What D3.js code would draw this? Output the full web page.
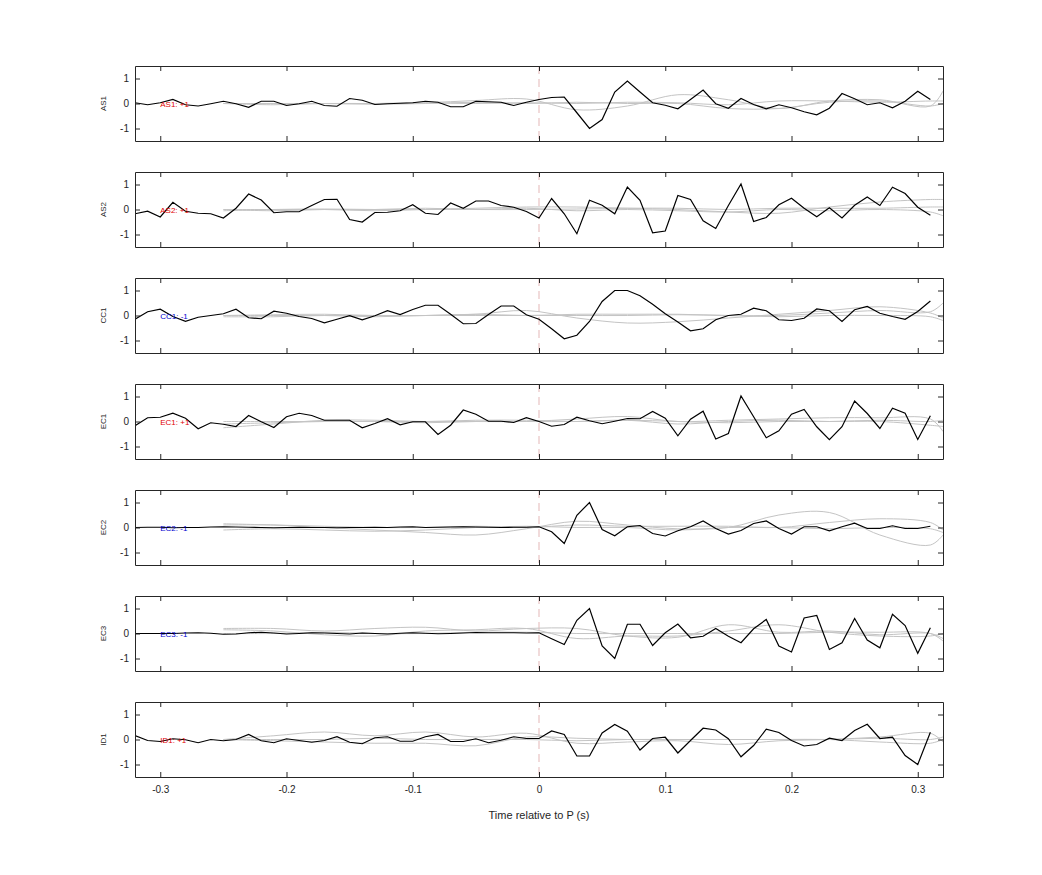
<!DOCTYPE html>
<html>
<head>
<meta charset="utf-8">
<script src="https://cdn.jsdelivr.net/npm/d3@7"></script>
<style>
  body { margin: 0; background: #fff; }
  text { font-family: "Liberation Sans", Arial, sans-serif; }
</style>
</head>
<body>
<svg id="chart"></svg>
<script>
const width = 1042;
const height = 875;

// black trace sampled every 0.01 s from -0.32 to 0.31
const timesBlack = d3.range(64).map(i => +(-0.32 + i * 0.01).toFixed(2));
// grey traces sampled every 0.04 s from -0.25, plus 0.32
const timesGrey = d3.range(15).map(i => +(-0.25 + i * 0.04).toFixed(2)).concat([0.32]);

const panels = ["AS1", "AS2", "CC1", "EC1", "EC2", "EC3", "ID1"];
const labels = ["AS1: +1", "AS2: +1", "CC1: -1", "EC1: +1", "EC2: -1", "EC3: -1", "ID1: +1"];
const labelColors = ["#e00000", "#e00000", "#0000d0", "#e00000", "#0000d0", "#0000d0", "#e00000"];

const blackAS1 = [0.03,-0.05,0.03,0.16,-0.05,-0.1,-0.01,0.09,-0.01,-0.15,0.09,0.09,-0.08,-0.01,0.09,-0.08,-0.11,0.2,0.13,-0.04,-0.01,0.01,0.03,0.09,0.05,-0.13,-0.13,0.09,0.07,0.05,-0.08,0.05,
  0.16,0.24,0.26,-0.37,-1.0,-0.64,0.46,0.9,0.46,0.03,-0.07,-0.21,0.16,0.54,-0.01,-0.19,0.2,-0.04,-0.21,-0.05,-0.17,-0.33,-0.45,-0.19,0.4,0.19,-0.05,0.03,-0.17,0.09,0.49,0.16];
const blackAS2 = [-0.17,-0.07,-0.3,0.29,-0.07,-0.15,-0.17,-0.34,0.05,0.62,0.38,-0.13,-0.09,-0.09,0.16,0.4,0.41,-0.4,-0.5,-0.12,-0.11,-0.05,0.19,-0.15,-0.2,0.26,0.05,0.34,0.34,0.16,0.09,-0.08,
  -0.34,0.44,-0.17,-0.97,0.37,0.17,-0.17,0.9,0.37,-0.93,-0.86,0.56,0.4,-0.45,-0.76,0.16,1.02,-0.48,-0.32,0.19,0.45,0.05,-0.29,0.07,-0.34,0.17,0.5,0.16,0.89,0.64,0.09,-0.23];
const blackCC1 = [-0.15,0.15,0.25,-0.04,-0.23,-0.07,0,0.07,0.25,-0.09,-0.13,0.17,0.09,-0.04,-0.12,-0.29,-0.15,-0.01,-0.17,-0.01,0.19,0.04,0.24,0.41,0.41,0.05,-0.33,-0.32,0.04,0.38,0.38,0.03,
  -0.15,-0.53,-0.93,-0.79,-0.24,0.56,1.0,1.0,0.79,0.45,0.07,-0.26,-0.61,-0.53,-0.17,0,0.05,0.29,0.19,-0.17,-0.2,-0.11,0.26,0.19,-0.24,0.23,0.36,0.09,-0.04,-0.15,0.16,0.58];
const blackEC1 = [-0.17,0.15,0.17,0.33,0.13,-0.29,-0.05,-0.11,-0.2,0.24,-0.01,-0.24,0.19,0.33,0.24,0.05,0.05,0.05,-0.25,-0.08,0.11,-0.13,-0.01,-0.01,-0.52,-0.15,0.46,0.29,0.01,0.01,-0.04,0.15,
  0,-0.19,-0.12,0.17,0.03,-0.09,0.01,0.12,0.11,0.4,0.13,-0.57,0.09,0.41,-0.7,-0.48,1.02,0.19,-0.65,-0.37,0.29,0.48,-0.21,-0.73,-0.21,0.82,0.32,-0.28,0.53,0.33,-0.72,0.23];
const blackEC2 = [0,0.01,0.01,-0.01,0,0,0.02,0.03,0.02,0.01,0,-0.01,0,0.01,0,0,-0.01,0,0,0.01,0,0.02,0.03,0,0.01,0.02,0.03,0.02,0.01,0,0.01,0.01,
  0.03,-0.17,-0.64,0.49,1.0,-0.08,-0.33,0.03,0.08,-0.24,-0.34,-0.13,0.03,0.26,-0.04,-0.26,-0.12,0.16,0.26,-0.04,-0.26,0.03,0.03,-0.13,0.03,0.17,-0.04,-0.04,0.07,-0.04,-0.04,0.05];
const blackEC3 = [0,0,0,0,0.02,0.03,0.01,-0.03,-0.02,0.03,0.05,0.02,-0.02,0,0.03,0.02,0,-0.02,0.02,0,-0.02,0.01,0.03,0.01,-0.01,0,0.02,0.04,0.03,0.03,0.03,0.02,
  0.03,-0.21,-0.44,0.53,1.0,-0.5,-1.0,0.37,0.37,-0.48,0.03,0.38,-0.17,-0.11,0.2,-0.11,-0.37,0.19,0.56,-0.5,-0.74,0.62,0.72,-0.64,-0.37,0.6,-0.26,-0.57,0.77,0.32,-0.79,0.23];
const blackID1 = [0.16,-0.04,-0.08,0.03,-0.01,-0.13,0,-0.05,0,0.2,-0.05,-0.13,0.03,-0.04,-0.11,-0.04,0.11,-0.11,-0.17,0.07,0.11,-0.07,-0.07,0.11,0.2,-0.08,-0.08,0.03,-0.13,-0.03,0.11,0.04,
  0.04,0.34,0.2,-0.66,-0.66,0.26,0.6,0.33,-0.42,0.04,0.09,-0.54,-0.04,0.45,0.38,0.03,-0.69,-0.24,0.41,0.28,-0.04,-0.26,-0.2,0.05,-0.04,0.36,0.61,0.04,0.09,-0.64,-1.0,0.29];

const greyAS1 = [
  [0,0,0,0,0.03,0.12,0.18,-0.25,-0.1,0.35,0.15,-0.2,0.1,0.15,-0.1,0.5],
  [0,-0.05,0,0,0.02,0,0.03,0,0.05,0.03,-0.05,0.1,0.1,0.05,0.1,0.1],
  [0,0,0,-0.03,0,0.05,0,0.05,0,0,-0.2,-0.2,0.05,0.1,-0.1,0]];
const greyAS2 = [
  [0,0,0.02,0,0,0.05,0.1,0.1,0.05,0,-0.1,-0.15,0.1,0.3,0.4,0.4],
  [0,-0.05,0,0,0.05,0,0,0.02,0.05,0.05,0,0.05,0.05,0.05,0.1,0.1],
  [-0.05,0,0,-0.05,0,0,0.05,-0.05,0,-0.05,-0.1,0,-0.05,0,-0.1,-0.25]];
const greyCC1 = [
  [0,0,0,0,0,0.05,0.2,-0.1,-0.3,-0.25,-0.1,0.05,0.2,0.35,0.1,-0.1],
  [0,0.03,0.05,0,0,0.05,0,0.05,0.05,0.05,0,0,0.1,0.2,0.15,0.5],
  [-0.05,-0.05,0,-0.05,0,0,0,0,0,0.03,0,-0.05,0,0,-0.05,-0.2]];
const greyEC1 = [
  [-0.25,-0.1,0.05,0.05,0,0,0,0.1,0.2,0,0.05,0.1,0.15,0.15,0.1,-0.4],
  [-0.1,-0.05,0,0,-0.05,0,0,0,0.05,-0.1,0,0.05,0,0,-0.15,-0.2],
  [0,0,0,0,0,0.05,0.05,0,0.05,0,-0.05,0,0,0.05,0,0.05]];
const greyEC2 = [
  [0.1,0.1,0,-0.1,-0.2,-0.3,-0.05,0.25,0.1,-0.05,0,0.5,0.6,-0.3,-0.7,-0.3],
  [0.15,0.1,0.05,0,0,0.05,0,0.1,0.05,0.05,0.05,0,0.2,0.35,0.2,-0.1],
  [-0.1,-0.05,-0.1,-0.15,-0.1,0,0.05,0,0,-0.1,0,0,-0.05,0,-0.05,-0.2]];
const greyEC3 = [
  [0.2,0.2,0.1,0.2,0.25,0.1,0.2,0.2,-0.1,-0.15,0.35,0.05,0.1,-0.05,0,-0.2],
  [0.15,0.1,-0.05,-0.1,0.1,0.15,0.2,-0.2,-0.1,-0.1,0.1,0.35,0.05,-0.1,-0.1,0],
  [0,0,0.05,0,0,0.05,0.05,0,0,0,0,0,0.05,0.05,0,-0.3]];
const greyID1 = [
  [0,0.15,0.3,0.15,0.3,0.1,0.25,-0.15,-0.1,-0.05,-0.2,-0.05,0,0.1,0.25,-0.1],
  [0,-0.05,-0.1,-0.15,-0.15,-0.25,0.1,0.05,0,0,0,0,0,-0.1,-0.15,0],
  [0,0,0,0.05,0,0,0,-0.05,0,0,0,0,0,0.05,0,0.1]];

const blackSeries = [blackAS1, blackAS2, blackCC1, blackEC1, blackEC2, blackEC3, blackID1];
const greySeries = [greyAS1, greyAS2, greyCC1, greyEC1, greyEC2, greyEC3, greyID1];

const xTicks = [-0.3, -0.2, -0.1, 0, 0.1, 0.2, 0.3];
const yTicks = [-1, 0, 1];

const margin = { left: 135, right: 99, top: 66 };
const panelH = 75;
const panelStep = 106;

const svg = d3.select("#chart").attr("width", width).attr("height", height);

const x = d3.scaleLinear().domain([-0.32, 0.32]).range([margin.left, width - margin.right]);
const fmt = d => String(d); // plain hyphen minus, no trailing zeros

panels.forEach((name, p) => {
    const top = margin.top + p * panelStep;
    const y = d3.scaleLinear().domain([-1.5, 1.5]).range([top + panelH, top]);
    const g = svg.append("g");

    const clipId = "clip" + p;
    g.append("clipPath").attr("id", clipId)
        .append("rect")
        .attr("x", x(-0.32)).attr("y", top)
        .attr("width", x(0.32) - x(-0.32)).attr("height", panelH);

    const plot = g.append("g").attr("clip-path", `url(#${clipId})`);

    // zero marker
    plot.append("line")
        .attr("x1", x(0)).attr("x2", x(0))
        .attr("y1", top).attr("y2", top + panelH)
        .attr("stroke", "#d89a9a")
        .attr("stroke-width", 0.7)
        .attr("stroke-dasharray", "8,5");

    const greyLine = d3.line()
        .x((d, i) => x(timesGrey[i]))
        .y(d => y(d))
        .curve(d3.curveCatmullRom);

    greySeries[p].forEach(s => {
        plot.append("path")
            .attr("d", greyLine(s))
            .attr("fill", "none")
            .attr("stroke", "#c4c4c4")
            .attr("stroke-width", 1);
    });

    const blackLine = d3.line()
        .x((d, i) => x(timesBlack[i]))
        .y(d => y(d));

    plot.append("path")
        .attr("d", blackLine(blackSeries[p]))
        .attr("fill", "none")
        .attr("stroke", "#000")
        .attr("stroke-width", 1.2);

    g.append("text")
        .attr("x", x(-0.3))
        .attr("y", y(0) + 3)
        .attr("fill", labelColors[p])
        .style("font-size", "8px")
        .text(labels[p]);

    // axes with inward ticks on all four sides
    const isLast = p === panels.length - 1;
    g.append("g")
        .attr("transform", `translate(0,${top + panelH})`)
        .call(d3.axisBottom(x).tickValues(xTicks).tickSizeInner(-5).tickSizeOuter(0)
            .tickPadding(9).tickFormat(isLast ? fmt : ""));
    g.append("g")
        .attr("transform", `translate(0,${top})`)
        .call(d3.axisTop(x).tickValues(xTicks).tickSizeInner(-5).tickSizeOuter(0).tickFormat(""));
    g.append("g")
        .attr("transform", `translate(${margin.left},0)`)
        .call(d3.axisLeft(y).tickValues(yTicks).tickSizeInner(-5).tickSizeOuter(0).tickPadding(6).tickFormat(fmt));
    g.append("g")
        .attr("transform", `translate(${width - margin.right},0)`)
        .call(d3.axisRight(y).tickValues(yTicks).tickSizeInner(-5).tickSizeOuter(0).tickFormat(""));

    g.selectAll(".domain").attr("stroke", "#262626");
    g.selectAll(".tick line").attr("stroke", "#262626");
    g.selectAll(".tick text").attr("fill", "#262626").style("font-size", "10px")
        .style("font-family", "'Liberation Sans', Arial, sans-serif");

    g.append("text")
        .attr("transform", `translate(${margin.left - 29},${y(0)}) rotate(-90)`)
        .attr("text-anchor", "middle")
        .attr("fill", "#262626")
        .style("font-size", "8px")
        .text(name);
});

svg.append("text")
    .attr("x", x(0))
    .attr("y", margin.top + 6 * panelStep + panelH + 42)
    .attr("text-anchor", "middle")
    .attr("fill", "#262626")
    .style("font-size", "11px")
    .text("Time relative to P (s)");
</script>
</body>
</html>
